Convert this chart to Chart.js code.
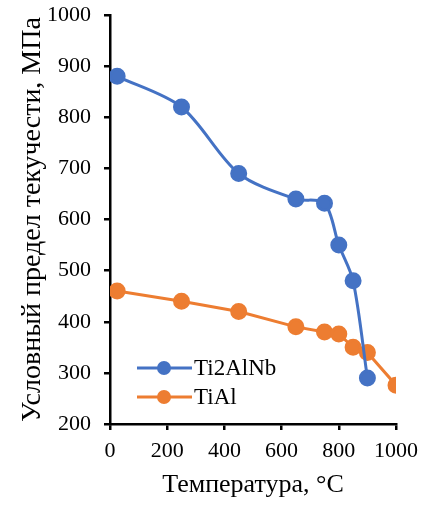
<!DOCTYPE html>
<html>
<head>
<meta charset="utf-8">
<style>
  * { margin: 0; padding: 0; box-sizing: border-box; }
  body { background: #fff; }
  .chart-container { position: relative; width: 436px; height: 505px; }
</style>
</head>
<body>
<div class="chart-container">
  <canvas id="chart"></canvas>
</div>
<script src="https://cdn.jsdelivr.net/npm/chart.js@4/dist/chart.umd.min.js"></script>
<script>
// Temperature, °C
const tempNb = [25, 250, 450, 650, 750, 800, 850, 900];
const stressNb = [880, 820, 690, 640, 632, 550, 480, 290];
const tempAl = [25, 250, 450, 650, 750, 800, 850, 900, 1000];
const stressAl = [460, 440, 420, 390, 380, 376, 350, 340, 276];

const BLUE = '#4472C4';
const ORANGE = '#ED7D31';
const FONT = '"Liberation Serif", "Times New Roman", serif';

Chart.defaults.font.family = FONT;
Chart.defaults.color = '#000';

const toXY = (xs, ys) => xs.map((x, i) => ({ x, y: ys[i] }));

// legend drawn inside the plot, bottom-left (like the Excel original)
const insideLegend = {
  id: 'insideLegend',
  afterDatasetsDraw(chart) {
    const { ctx, chartArea } = chart;
    const x0 = chartArea.left + 27;
    let y = chartArea.bottom - 56;
    chart.data.datasets.forEach(ds => {
      ctx.save();
      ctx.strokeStyle = ds.borderColor;
      ctx.lineWidth = ds.borderWidth;
      ctx.beginPath();
      ctx.moveTo(x0, y);
      ctx.lineTo(x0 + 55, y);
      ctx.stroke();
      ctx.fillStyle = ds.backgroundColor;
      ctx.beginPath();
      ctx.arc(x0 + 27, y, ds.pointRadius, 0, Math.PI * 2);
      ctx.fill();
      ctx.fillStyle = '#000';
      ctx.font = '23px ' + FONT;
      ctx.textBaseline = 'middle';
      ctx.fillText(ds.label, x0 + 57, y + 1);
      ctx.restore();
      y += 29;
    });
  }
};

new Chart(document.getElementById('chart'), {
  type: 'line',
  data: {
    datasets: [
      {
        label: 'Ti2AlNb',
        data: toXY(tempNb, stressNb),
        borderColor: BLUE,
        backgroundColor: BLUE,
        borderWidth: 3,
        pointRadius: 7,
        pointHoverRadius: 7,
        tension: 0.3
      },
      {
        label: 'TiAl',
        data: toXY(tempAl, stressAl),
        borderColor: ORANGE,
        backgroundColor: ORANGE,
        borderWidth: 3,
        pointRadius: 7,
        pointHoverRadius: 7,
        tension: 0
      }
    ]
  },
  options: {
    responsive: true,
    maintainAspectRatio: false,
    animation: false,
    layout: { padding: { top: 15, right: 40, left: 0, bottom: 0 } },
    plugins: {
      legend: { display: false },
      tooltip: { enabled: false }
    },
    scales: {
      x: {
        type: 'linear',
        min: 0, max: 1000,
        afterFit: s => { s.height = 81; s.paddingLeft = 0; s.paddingRight = 0; },
        ticks: { stepSize: 200, font: { size: 22 }, padding: 8, color: '#000', callback: v => String(v) },
        grid: { drawOnChartArea: false, drawTicks: true, tickLength: 6, color: '#000', lineWidth: 2.5 },
        border: { color: '#000', width: 2.5 },
        title: { display: true, text: 'Температура, °C', font: { size: 26 }, color: '#000', padding: { top: 0, bottom: 4 } }
      },
      y: {
        min: 200, max: 1000,
        afterFit: s => { s.width = 110; s.paddingTop = 0; s.paddingBottom = 0; },
        ticks: { stepSize: 100, font: { size: 22 }, padding: 13, color: '#000', callback: v => String(v) },
        grid: { drawOnChartArea: false, drawTicks: true, tickLength: 6, color: '#000', lineWidth: 2.5 },
        border: { color: '#000', width: 2.5 },
        title: { display: true, text: 'Условный предел текучести, МПа', font: { size: 28 }, color: '#000', padding: { top: 16, bottom: 0 } }
      }
    }
  },
  plugins: [insideLegend]
});
</script>
</body>
</html>
